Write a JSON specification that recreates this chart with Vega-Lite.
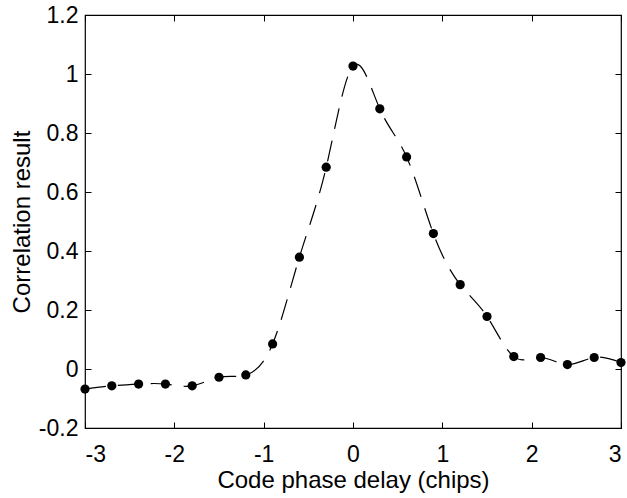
{
  "$schema": "https://vega.github.io/schema/vega-lite/v6.json",
  "autosize": {"type": "none"},
  "width": 536,
  "height": 413,
  "padding": {"left": 85, "top": 15, "right": 6, "bottom": 70},
  "background": "white",
  "config": {
    "font": "Liberation Sans",
    "view": {"stroke": "black", "strokeWidth": 1.2},
    "axis": {
      "domain": false,
      "grid": false,
      "ticks": true,
      "tickColor": "black",
      "tickSize": -6,
      "tickWidth": 1,
      "labelFont": "Liberation Sans",
      "labelFontSize": 23,
      "labelColor": "black",
      "titleFont": "Liberation Sans",
      "titleFontSize": 24,
      "titleFontWeight": "normal",
      "titleColor": "black"
    }
  },
  "data": {
    "values": [
      {"d": -3.0, "r": -0.068},
      {"d": -2.7, "r": -0.057},
      {"d": -2.4, "r": -0.051},
      {"d": -2.1, "r": -0.051},
      {"d": -1.8, "r": -0.057},
      {"d": -1.5, "r": -0.028},
      {"d": -1.2, "r": -0.020},
      {"d": -0.9, "r": 0.085},
      {"d": -0.6, "r": 0.379},
      {"d": -0.3, "r": 0.684},
      {"d": 0.0, "r": 1.027},
      {"d": 0.3, "r": 0.882},
      {"d": 0.6, "r": 0.719},
      {"d": 0.9, "r": 0.459},
      {"d": 1.2, "r": 0.286},
      {"d": 1.5, "r": 0.178},
      {"d": 1.8, "r": 0.042},
      {"d": 2.1, "r": 0.039},
      {"d": 2.4, "r": 0.015},
      {"d": 2.7, "r": 0.039},
      {"d": 3.0, "r": 0.022}
    ]
  },
  "layer": [
    {
      "mark": {"type": "line", "interpolate": "natural", "color": "black", "strokeWidth": 1.2, "strokeDash": [21, 12]},
      "encoding": {
        "x": {"field": "d", "type": "quantitative",
          "scale": {"domain": [-3, 3], "nice": false},
          "axis": {"orient": "bottom", "values": [-3, -2, -1, 0, 1, 2, 3], "labelPadding": 21, "title": "Code phase delay (chips)", "titlePadding": 2,
            "labelExpr": "datum.value < 0 ? '-' + format(-datum.value, '~g') : format(datum.value, '~g')"}},
        "y": {"field": "r", "type": "quantitative",
          "scale": {"domain": [-0.2, 1.2], "nice": false, "zero": false},
          "axis": {"orient": "left", "values": [-0.2, 0, 0.2, 0.4, 0.6, 0.8, 1, 1.2], "labelPadding": 13, "title": "Correlation result", "titlePadding": 4,
            "labelExpr": "datum.value < 0 ? '-' + format(-datum.value, '~g') : format(datum.value, '~g')"}}
      }
    },
    {
      "mark": {"type": "point", "filled": true, "color": "black", "opacity": 1, "size": 85},
      "encoding": {
        "x": {"field": "d", "type": "quantitative",
          "axis": {"orient": "top", "values": [-3, -2, -1, 0, 1, 2, 3], "labels": false, "title": null}},
        "y": {"field": "r", "type": "quantitative",
          "axis": {"orient": "right", "values": [-0.2, 0, 0.2, 0.4, 0.6, 0.8, 1, 1.2], "labels": false, "title": null}}
      }
    }
  ],
  "resolve": {"axis": {"x": "independent", "y": "independent"}}
}
